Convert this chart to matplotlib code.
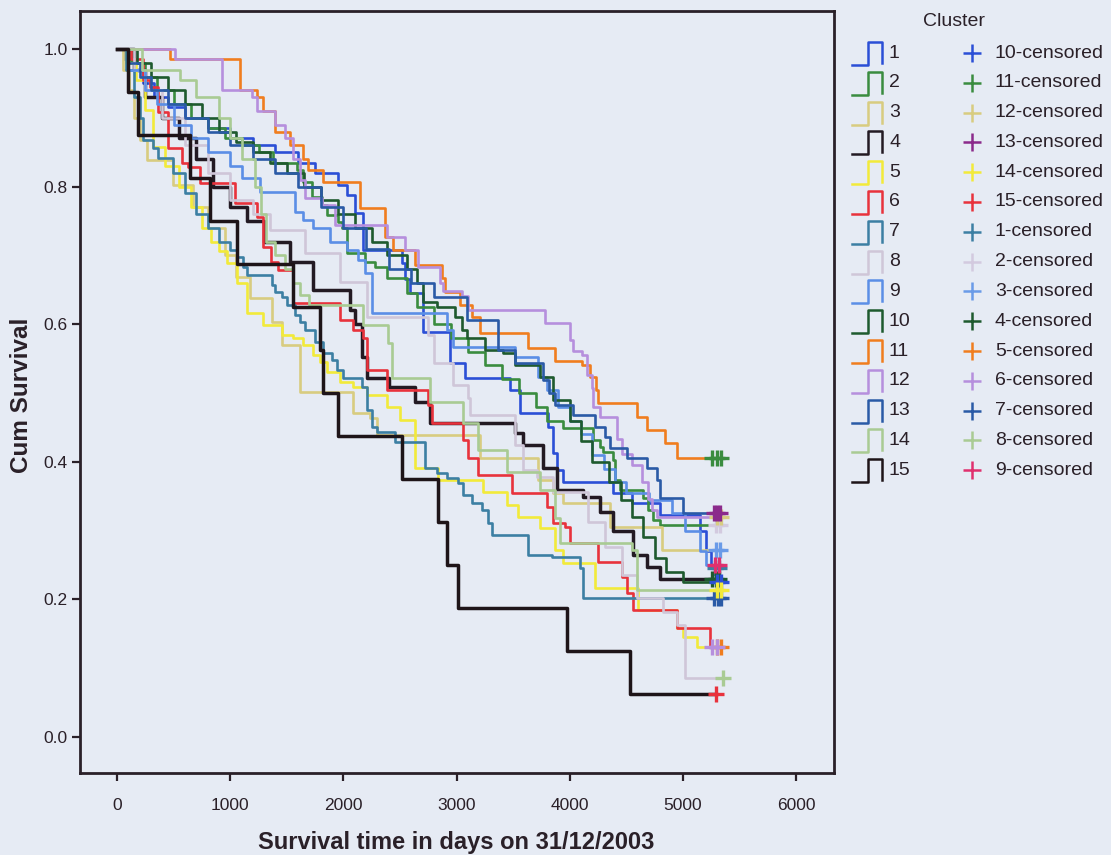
import numpy as np
import matplotlib
matplotlib.use("Agg")
import matplotlib.pyplot as plt
from matplotlib.lines import Line2D
from matplotlib import font_manager

# ---- Kaplan-Meier steps: (days, cum survival) ----
times_1 = [0, 60, 150, 230, 330, 450, 600, 800, 1000, 1200, 1400, 1600, 1750, 1952, 2032, 2100, 2173, 2518,
           2544, 2588, 2703, 2942, 3074, 3472, 3560, 3807, 3852, 3887, 3940, 4382, 4550, 4797, 5150, 5200, 5250]
surv_1 = [1.0, .985, .97, .95, .93, .915, .90, .885, .87, .86, .85, .835, .82, .802, .788, .762, .708, .689,
          .665, .645, .589, .544, .522, .504, .471, .45, .413, .388, .371, .355, .34, .323, .30, .27, .245]
cens_1 = [5280, 5320]

times_2 = [0, 120, 250, 350, 500, 650, 800, 950, 1100, 1250, 1378, 1590, 1643, 1723, 1811, 1855, 1952, 1988,
           2032, 2191, 2279, 2385, 2562, 2650, 2800, 2950, 3100, 3250, 3400, 3550, 3700, 3800, 3940, 4205,
           4267, 4293, 4382, 4399, 4443, 4647, 4691, 4735, 4797]
surv_2 = [1.0, .98, .96, .94, .92, .90, .885, .87, .86, .85, .834, .824, .807, .785, .773, .759, .749, .74,
          .703, .69, .683, .667, .645, .625, .60, .58, .56, .54, .52, .50, .48, .46, .449, .432,
          .421, .414, .403, .374, .359, .347, .33, .315, .308]
cens_2 = [5290, 5330]

times_3 = [0, 50, 110, 150, 200, 265, 495, 671, 800, 950, 1050, 1175, 1369, 1458, 1617, 2085, 2235, 2297,
           3207, 3719, 3852, 3940, 4355, 4814]
surv_3 = [1.0, .97, .94, .90, .868, .839, .802, .77, .74, .70, .669, .638, .603, .57, .501, .471, .464, .439,
          .406, .374, .355, .34, .305, .272]
cens_3 = [5290, 5330]

times_4 = [0, 150, 250, 400, 550, 700, 850, 1000, 1150, 1300, 1528, 1731, 2058, 2102, 2164, 2208, 2400, 2632,
           2765, 3516, 3587, 3763, 3887, 4117, 4267, 4382, 4558, 4682, 4797]
surv_4 = [1.0, .97, .93, .90, .87, .84, .80, .77, .75, .72, .69, .65, .62, .60, .552, .522, .509, .487,
          .456, .442, .424, .391, .359, .349, .327, .30, .265, .247, .23]
cens_4 = [5260, 5290, 5320]

times_5 = [0, 80, 170, 250, 318, 420, 550, 650, 750, 830, 900, 972, 1060, 1148, 1290, 1458, 1555, 1643, 1731,
           1793, 1855, 1970, 2085, 2208, 2385, 2500, 2633, 2836, 3233, 3445, 3543, 3737, 3869, 3940, 4223,
           4603, 4947, 5000, 5124]
surv_5 = [1.0, .98, .955, .911, .857, .83, .80, .77, .74, .72, .707, .689, .66, .616, .599, .584, .58, .57, .555,
          .545, .53, .516, .509, .497, .48, .461, .391, .374, .356, .337, .32, .304, .272, .253, .217,
          .185, .158, .145, .131]
cens_5 = [5300, 5340]

times_6 = [0, 120, 230, 292, 360, 451, 574, 627, 733, 1042, 1237, 1290, 1360, 1422, 1555, 1970, 2085, 2173,
           2208, 2385, 2747, 2783, 3057, 3101, 3189, 3490, 3799, 3852, 3960, 4002, 4249, 4461, 4505, 4558,
           4947, 5239]
surv_6 = [1.0, .985, .955, .945, .908, .856, .834, .828, .805, .776, .756, .712, .69, .679, .631, .606, .592, .58,
          .533, .504, .483, .456, .432, .406, .381, .355, .334, .311, .305, .282, .254, .233, .209, .185,
          .158, .131]
cens_6 = [5260, 5300]

times_7 = [0, 80, 150, 200, 230, 318, 362, 495, 600, 700, 800, 900, 1000, 1060, 1113, 1148, 1369, 1396, 1458,
           1502, 1572, 1617, 1661, 1749, 1820, 1899, 1944, 1996, 2164, 2208, 2253, 2297, 2456, 2721, 2827,
           2915, 3012, 3057, 3136, 3224, 3277, 3313, 3631, 3843, 4090, 4117]
surv_7 = [1.0, .97, .93, .90, .868, .856, .842, .82, .79, .76, .74, .72, .708, .698, .683, .672, .657, .647, .64,
          .628, .613, .603, .592, .574, .558, .548, .533, .522, .509, .475, .451, .443, .429, .391, .384,
          .376, .369, .352, .34, .33, .311, .294, .265, .262, .246, .202]
cens_7 = [5270, 5305, 5340]

times_8 = [0, 150, 250, 400, 600, 800, 1000, 1200, 1352, 1661, 1970, 2208, 2747, 2800, 2968, 3101, 3118, 3516,
           3587, 3710, 3852, 4161, 4311, 4461, 4594, 4823, 4947, 5018]
surv_8 = [1.0, .97, .94, .90, .86, .82, .78, .76, .737, .703, .661, .61, .584, .544, .512, .493, .468, .424,
          .388, .378, .356, .3125, .276, .235, .202, .182, .163, .086]
cens_8 = [5350]

times_9 = [0, 100, 250, 350, 500, 650, 800, 1000, 1100, 1263, 1572, 1643, 1731, 1882, 2032, 2129, 2191, 2253,
           2915, 2968, 3516, 3719, 3799, 3900, 4000, 4100, 4200, 4300, 4400, 4500, 4700, 4900, 5020, 5150, 5200]
surv_9 = [1.0, .97, .94, .92, .89, .87, .85, .83, .8125, .792, .763, .751, .74, .719, .708, .693, .674, .616,
          .591, .567, .552, .523, .504, .48, .46, .44, .41, .39, .37, .355, .345, .325, .30, .27, .25]
cens_9 = [5280, 5320]

times_10 = [0, 180, 300, 450, 600, 750, 900, 1050, 1200, 1350, 1500, 1650, 1800, 1950, 2100, 2250, 2385, 2560,
            2650, 2703, 2827, 2985, 3048, 3092, 3251, 3410, 3516, 3737, 3852, 4000, 4100, 4200, 4350, 4450,
            4550, 4650, 4750, 4850, 5000]
surv_10 = [1.0, .98, .96, .94, .92, .90, .88, .865, .85, .835, .82, .80, .78, .76, .74, .72, .70, .68,
           .66, .632, .625, .61, .592, .58, .5625, .558, .541, .523, .49, .46, .43, .40, .37, .345,
           .32, .29, .26, .24, .225]
cens_10 = [5300, 5335]

times_11 = [0, 470, 1087, 1237, 1290, 1396, 1528, 1643, 1687, 1820, 2147, 2368, 2438, 2633, 2871, 2898, 3030,
            3136, 3207, 3631, 3870, 4108, 4179, 4230, 4250, 4594, 4682, 4841, 4947]
surv_11 = [1.0, .985, .94, .93, .91, .88, .86, .84, .824, .807, .769, .727, .708, .686, .667, .647, .628,
           .61, .587, .566, .546, .541, .523, .504, .485, .465, .446, .427, .405]
cens_11 = [5260, 5300, 5340]

times_12 = [0, 512, 927, 1193, 1237, 1396, 1480, 1555, 1617, 1661, 1811, 1926, 2385, 2544, 2659, 2853, 2880,
            3048, 3101, 3781, 4002, 4028, 4108, 4152, 4196, 4205, 4267, 4417, 4461, 4549, 4638, 4691, 4726, 4770]
surv_12 = [1.0, .985, .94, .93, .91, .89, .87, .84, .81, .783, .773, .744, .727, .708, .683, .66, .648,
           .641, .62, .602, .577, .561, .555, .526, .507, .48, .465, .433, .411, .395, .37, .346, .33, .32]
cens_12 = [5300, 5340]

times_13 = [0, 100, 200, 300, 450, 600, 800, 1000, 1200, 1400, 1600, 1800, 2000, 2200, 2400, 2600, 2800, 3092,
            3366, 3516, 3763, 3820, 3869, 4028, 4223, 4311, 4355, 4505, 4682, 4770, 4797, 5000]
surv_13 = [1.0, .98, .96, .94, .92, .90, .88, .86, .84, .82, .80, .77, .74, .71, .68, .66, .64, .606,
           .5625, .544, .519, .50, .483, .468, .45, .436, .42, .406, .391, .374, .347, .326]
cens_13 = [5270, 5300, 5330]

times_14 = [0, 220, 560, 700, 900, 1000, 1100, 1219, 1270, 1320, 1400, 1480, 1555, 1617, 1700, 2173, 2394, 2430,
            2765, 3057, 3189, 3445, 3737, 3869, 3913, 4549, 4594]
surv_14 = [1.0, .97, .955, .93, .90, .87, .84, .80, .76, .72, .70, .68, .66, .642, .628, .599, .573, .522,
           .487, .456, .417, .385, .359, .318, .282, .272, .214]
cens_14 = [5300, 5340]

times_15 = [0, 97, 186, 645, 822, 1060, 1555, 1793, 1820, 1952, 2518, 2836, 2915, 3012, 3975, 4532]
surv_15 = [1.0, .9375, .875, .8125, .75, .6875, .625, .5625, .5, .4375, .375, .3125, .25, .1875, .125, .0625]
cens_15 = [5290]

line_colors = ["#2B4FD6", "#3A8C3F", "#D8CC80", "#231A23", "#F2EA3A", "#E8323C", "#3C7FA3", "#CFC6D8",
               "#5B8EE6", "#1E5A2E", "#F07D1E", "#B68FDD", "#2A5AA6", "#A9CB93", "#1E1418"]
cens_colors = ["#3C7FA3", "#D3CADF", "#6A9BE8", "#1E5A2E", "#F07D1E", "#B68FDD", "#2A5AA6", "#A9CB93",
               "#E0306E", "#2B4FD6", "#3A8C3F", "#D8CC80", "#8B2A8B", "#F2EA3A", "#E8323C"]
cens_legend_order = [10, 11, 12, 13, 14, 15, 1, 2, 3, 4, 5, 6, 7, 8, 9]
x_ticks = [0, 1000, 2000, 3000, 4000, 5000, 6000]
y_ticks = [0.0, 0.2, 0.4, 0.6, 0.8, 1.0]

curves = [
    (times_1, surv_1, cens_1), (times_2, surv_2, cens_2), (times_3, surv_3, cens_3),
    (times_4, surv_4, cens_4), (times_5, surv_5, cens_5), (times_6, surv_6, cens_6),
    (times_7, surv_7, cens_7), (times_8, surv_8, cens_8), (times_9, surv_9, cens_9),
    (times_10, surv_10, cens_10), (times_11, surv_11, cens_11), (times_12, surv_12, cens_12),
    (times_13, surv_13, cens_13), (times_14, surv_14, cens_14), (times_15, surv_15, cens_15),
]

# fonts: narrow face if present, else plain Liberation Sans
_names = {f.name for f in font_manager.fontManager.ttflist}
if "Liberation Sans Narrow" in _names:
    small_font, tick_size, leg_size = "Liberation Sans Narrow", 15, 17
else:
    small_font, tick_size, leg_size = "Liberation Sans", 12.5, 14
bold_font = "Liberation Sans"

BG = "#E6EBF4"
INK = "#2A2028"
W, H = 1111, 855

fig = plt.figure(figsize=(W / 100, H / 100), dpi=100, facecolor=BG)
ax = fig.add_axes([80 / W, 1 - 773 / H, (834 - 80) / W, (773 - 11) / H], facecolor=BG)

for k, (t, s, c) in enumerate(curves):
    end = max(c)
    lw = 2.5 if k in (3, 14) else 1.9
    ax.step(list(t) + [end], list(s) + [s[-1]], where="post", color=line_colors[k], lw=lw, zorder=2 + k * 0.01)
for k, (t, s, c) in enumerate(curves):
    ax.plot(c, [s[-1]] * len(c), "+", ms=11, mew=2.4, color=cens_colors[k], zorder=4)

ax.set_xlim(-327, 6334)
ax.set_ylim(-0.0523, 1.0552)
ax.set_xticks(x_ticks)
ax.set_yticks(y_ticks)
ax.set_xticklabels([str(v) for v in x_ticks], fontfamily=small_font, fontsize=tick_size, color=INK)
ax.set_yticklabels([f"{v:.1f}" for v in y_ticks], fontfamily=small_font, fontsize=tick_size, color=INK)
ax.tick_params(axis="both", direction="out", length=6, width=1.6, color=INK)
ax.tick_params(axis="x", pad=12)
ax.tick_params(axis="y", pad=3)
for sp in ax.spines.values():
    sp.set_linewidth(2)
    sp.set_color(INK)

fig.text(22 / W, 1 - 395 / H, "Cum Survival", rotation=90, ha="center", va="center",
         fontfamily=bold_font, fontweight="bold", fontsize=17.5, color=INK)
fig.text(456 / W, 1 - 842 / H, "Survival time in days on 31/12/2003", ha="center", va="center",
         fontfamily=bold_font, fontweight="bold", fontsize=17, color=INK)


def fx(px):
    return px / W


def fy(py):
    return 1 - py / H


# legend, drawn by hand in figure pixels
fig.text(fx(923), fy(22), "Cluster", ha="left", va="center", fontfamily=small_font, fontsize=leg_size, color=INK)
for i in range(15):
    y = 53 + 29.8 * i
    fig.add_artist(Line2D([fx(852), fx(868), fx(868), fx(882), fx(882)],
                          [fy(y + 12), fy(y + 12), fy(y - 11), fy(y - 11), fy(y + 10)],
                          transform=fig.transFigure, color=line_colors[i], lw=1.8))
    fig.text(fx(889), fy(y), str(i + 1), ha="left", va="center", fontfamily=small_font,
             fontsize=leg_size, color=INK)
    k = cens_legend_order[i]
    fig.add_artist(Line2D([fx(972)], [fy(y)], transform=fig.transFigure, marker="+", ms=13, mew=1.8,
                          color=cens_colors[k - 1], ls="none"))
    fig.text(fx(995), fy(y), f"{k}-censored", ha="left", va="center", fontfamily=small_font,
             fontsize=leg_size, color=INK)

fig.savefig("out.png", dpi=100, facecolor=BG)
